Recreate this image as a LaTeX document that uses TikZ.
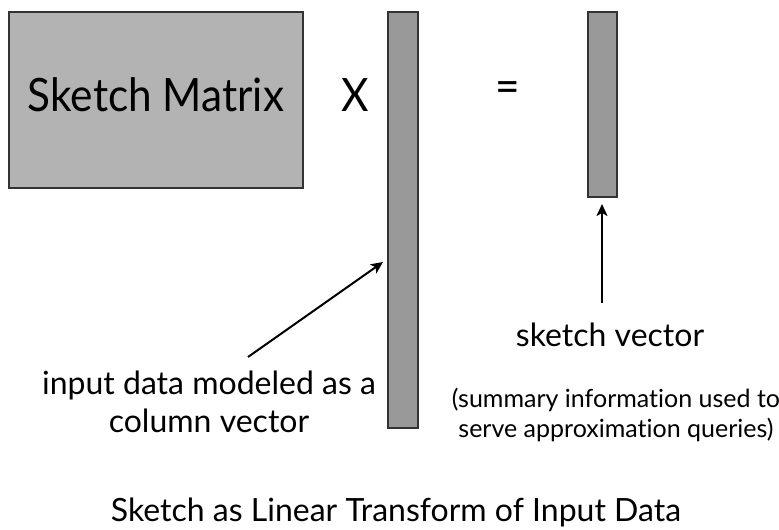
\documentclass[tikz,border=0pt]{standalone}
\usepackage{fontspec}
\setmainfont{Lato}[Ligatures=NoCommon]
\newfontfamily\narrowlato{Lato}[Ligatures=NoCommon,FakeStretch=0.92]
\usetikzlibrary{arrows.meta}
\definecolor{matfill}{HTML}{B3B3B3}
\definecolor{vecfill}{HTML}{999999}
\definecolor{edge}{HTML}{333333}
% a zero kern keeps "t" and "i" apart as two letters
\newcommand\tisep{t\kern0pt i}
\tikzset{
  px/.style={x=1pt,y=-1pt},
  matbox/.style={draw=edge,line width=1.3pt,fill=matfill},
  vecbox/.style={draw=edge,line width=1.3pt,fill=vecfill},
  pointer/.style={-{Stealth[length=12pt,width=11pt,inset=3pt]},line width=2pt},
  bigtext/.style={font=\narrowlato\fontsize{46}{50}\selectfont,inner sep=0pt},
  midtext/.style={font=\fontsize{32}{38}\selectfont,inner sep=0pt,align=center},
  smalltext/.style={font=\fontsize{25}{30}\selectfont,inner sep=0pt,align=center},
}
\begin{document}
\begin{tikzpicture}[px]
\useasboundingbox (0,0) rectangle (779,530);
% operands and result
\draw[matbox] (9,12) rectangle (303,188);
\node[bigtext] (mat) at (156,95) {Sketch Matrix};
\node[bigtext] (times) at (355,95) {X};
\draw[vecbox] (388,12) rectangle (418,428);
\coordinate (inTip) at (383,262);
\node[bigtext] (eq) at (508,92) {=};
\draw[vecbox] (588,12) rectangle (617,197);
\coordinate (outTip) at (602,204);
% labels
\node[midtext] (inLbl) at (209,402) {input data modeled as a\\column vector};
\coordinate (inTail) at (248,357);
\node[midtext] (outLbl) at (610,335) {sketch vector};
\coordinate (outTail) at (602,303);
\node[smalltext] (note) at (616,415) {(summary informa\tisep on used to\\serve approxima\tisep on queries)};
\node[midtext] (title) at (396,512) {Sketch as Linear Transform of Input Data};
% pointers
\draw[pointer] (inTail) -- (inTip);
\draw[pointer] (outTail) -- (outTip);
\end{tikzpicture}
\end{document}
